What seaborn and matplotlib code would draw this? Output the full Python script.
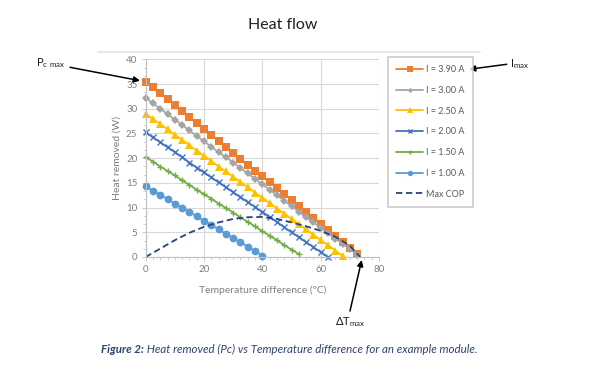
import matplotlib
matplotlib.use("Agg")
import matplotlib.pyplot as plt
import seaborn as sns
import pandas as pd
from matplotlib.ticker import MultipleLocator
from matplotlib.lines import Line2D

# ---------------- data ----------------
x_390 = [0, 2.5, 5, 7.5, 10, 12.5, 15, 17.5, 20, 22.5, 25, 27.5, 30, 32.5, 35,
         37.5, 40, 42.5, 45, 47.5, 50, 52.5, 55, 57.5, 60, 62.5, 65, 67.5, 70, 72.5]
q_390 = [35.5, 34.3, 33.1, 31.9, 30.7, 29.5, 28.3, 27.1, 25.9, 24.7, 23.5, 22.3,
         21.1, 19.9, 18.7, 17.5, 16.3, 15.1, 13.9, 12.7, 11.5, 10.3, 9.1, 7.9,
         6.7, 5.5, 4.3, 3.1, 1.9, 0.7]

x_300 = [0, 2.5, 5, 7.5, 10, 12.5, 15, 17.5, 20, 22.5, 25, 27.5, 30, 32.5, 35,
         37.5, 40, 42.5, 45, 47.5, 50, 52.5, 55, 57.5, 60, 62.5, 65, 67.5, 70, 72.5]
q_300 = [32.2, 31.1, 30.0, 28.9, 27.8, 26.7, 25.6, 24.5, 23.4, 22.3, 21.2, 20.2,
         19.1, 18.0, 16.9, 15.8, 14.7, 13.6, 12.5, 11.4, 10.3, 9.2, 8.1, 7.0,
         5.9, 4.8, 3.7, 2.7, 1.6, 0.5]

x_250 = [0, 2.5, 5, 7.5, 10, 12.5, 15, 17.5, 20, 22.5, 25, 27.5, 30, 32.5, 35,
         37.5, 40, 42.5, 45, 47.5, 50, 52.5, 55, 57.5, 60, 62.5, 65, 67.5]
q_250 = [29.0, 27.9, 26.9, 25.8, 24.7, 23.7, 22.6, 21.5, 20.5, 19.4, 18.3, 17.3,
         16.2, 15.2, 14.1, 13.0, 12.0, 10.9, 9.8, 8.8, 7.7, 6.6, 5.6, 4.5, 3.4,
         2.4, 1.3, 0.2]

x_200 = [0, 2.5, 5, 7.5, 10, 12.5, 15, 17.5, 20, 22.5, 25, 27.5, 30, 32.5, 35,
         37.5, 40, 42.5, 45, 47.5, 50, 52.5, 55, 57.5, 60, 62.5]
q_200 = [25.2, 24.2, 23.2, 22.2, 21.2, 20.2, 19.1, 18.1, 17.1, 16.1, 15.1, 14.1,
         13.1, 12.1, 11.1, 10.1, 9.1, 8.1, 7.1, 6.0, 5.0, 4.0, 3.0, 2.0, 1.0, 0.0]

x_150 = [0, 2.5, 5, 7.5, 10, 12.5, 15, 17.5, 20, 22.5, 25, 27.5, 30, 32.5, 35,
         37.5, 40, 42.5, 45, 47.5, 50, 52.5]
q_150 = [20.2, 19.3, 18.3, 17.4, 16.5, 15.5, 14.6, 13.6, 12.7, 11.8, 10.8, 9.9,
         9.0, 8.0, 7.1, 6.2, 5.2, 4.3, 3.4, 2.4, 1.5, 0.6]

x_100 = [0, 2.5, 5, 7.5, 10, 12.5, 15, 17.5, 20, 22.5, 25, 27.5, 30, 32.5, 35,
         37.5, 40]
q_100 = [14.3, 13.4, 12.6, 11.7, 10.8, 10.0, 9.1, 8.2, 7.3, 6.5, 5.6, 4.7, 3.8,
         3.0, 2.1, 1.2, 0.3]

x_cop = [0, 5, 10, 15, 20, 25, 30, 35, 40, 45, 50, 55, 60, 65, 70, 73.5]
q_cop = [0.0, 1.7, 3.4, 4.9, 6.1, 7.0, 7.7, 8.05, 8.1, 7.7, 7.0, 6.2, 5.3, 4.1,
         2.3, 0.0]

labels = ["I = 3.90 A", "I = 3.00 A", "I = 2.50 A", "I = 2.00 A",
          "I = 1.50 A", "I = 1.00 A", "Max COP"]

x_ticks = [0, 20, 40, 60, 80]
y_ticks = [0, 5, 10, 15, 20, 25, 30, 35, 40]

# ---------------- styling ----------------
sns.set_theme(style="whitegrid")
plt.rcParams["font.family"] = ["Lato", "DejaVu Sans"]

W, H = 600, 370
fig = plt.figure(figsize=(6, 3.7), dpi=100)
fig.patch.set_facecolor("white")
ax = fig.add_axes([145.7 / W, 1 - 257 / H, (379 - 145.7) / W, (257 - 59.3) / H])
ax.set_facecolor("white")

series = [
    (x_390, q_390, "#ED7D31", "s", 5.4, None),
    (x_300, q_300, "#A5A5A5", "D", 3.8, None),
    (x_250, q_250, "#FFC000", "^", 5.6, None),
    (x_200, q_200, "#4472C4", "x", 4.3, 1.0),
    (x_150, q_150, "#70AD47", "+", 4.8, 1.0),
    (x_100, q_100, "#5B9BD5", "o", 5.6, None),
]
for (xs, ys, col, mk, ms, mew), lab in zip(series, labels):
    kw = dict(marker=mk, markersize=ms, color=col, linewidth=1.3,
              markeredgecolor=col, markerfacecolor=col, clip_on=False)
    kw["markeredgewidth"] = mew if mew is not None else 0
    sns.lineplot(data=pd.DataFrame({"x": xs, "y": ys}), x="x", y="y", ax=ax,
                 label=lab, sort=False, **kw)

sns.lineplot(data=pd.DataFrame({"x": x_cop, "y": q_cop}), x="x", y="y", ax=ax,
             label=labels[-1], color="#264478", linewidth=1.3,
             linestyle=(0, (3.5, 2)), sort=False)

ax.set_xlim(0, 80)
ax.set_ylim(0, 40)
ax.set_xticks(x_ticks)
ax.set_yticks(y_ticks)
ax.xaxis.set_minor_locator(MultipleLocator(2.5))
ax.yaxis.set_minor_locator(MultipleLocator(5 / 3))
ax.grid(True, which="major", color="#d9d9d9", linewidth=0.8)
ax.grid(False, which="minor")
for s in ["top", "right"]:
    ax.spines[s].set_visible(False)
for s in ["left", "bottom"]:
    ax.spines[s].set_color("#bfbfbf")
    ax.spines[s].set_linewidth(0.8)
ax.tick_params(axis="both", which="major", labelsize=7, labelcolor="#7f7f7f",
               length=3, width=0.6, color="#bfbfbf", pad=3, direction="out")
ax.tick_params(axis="both", which="minor", length=2, width=0.5, color="#bfbfbf",
               direction="out")
ax.tick_params(axis="x", which="both", bottom=True)
ax.tick_params(axis="y", which="both", left=True)
ax.set_xlabel("Temperature difference (ºC)", fontsize=7.5, color="#7f7f7f", labelpad=8)
ax.set_ylabel("Heat removed (W)", fontsize=7.5, color="#7f7f7f", labelpad=3)

leg = ax.legend(loc="upper left", bbox_to_anchor=(388 / W, 1 - 57 / H),
                bbox_transform=fig.transFigure, fontsize=6.5, frameon=True,
                labelspacing=1.3, handlelength=3.0, handletextpad=0.3,
                borderpad=0.9, borderaxespad=0, markerscale=0.7, shadow=False,
                fancybox=False)
leg.get_frame().set_edgecolor("#bfbfbf")
leg.get_frame().set_linewidth(1.2)
for t in leg.get_texts():
    t.set_color("#595959")

# ---------------- title, separator, annotations, caption ----------------
fig.text(283 / W, 1 - 25 / H, "Heat flow", ha="center", va="center",
         fontsize=11.5, color="#1f1f1f")
fig.add_artist(Line2D([98 / W, 480 / W], [1 - 52 / H, 1 - 52 / H],
                      transform=fig.transFigure, color="#e6e6e6", linewidth=1.3))

arrow = dict(arrowstyle="-|>", color="black", lw=1.1, mutation_scale=9,
             shrinkA=0, shrinkB=0)
ax.annotate("", xy=(140 / W, 1 - 80.7 / H), xycoords="figure fraction",
            xytext=(70 / W, 1 - 67.3 / H), textcoords="figure fraction",
            arrowprops=arrow, annotation_clip=False)
fig.text(36 / W, 1 - 63.5 / H, r"P$_{\mathregular{c\ max}}$", ha="left", va="center",
         fontsize=8, color="#1a1a1a")

ax.annotate("", xy=(469 / W, 1 - 69.3 / H), xycoords="figure fraction",
            xytext=(506.7 / W, 1 - 64.3 / H), textcoords="figure fraction",
            arrowprops=arrow, annotation_clip=False)
fig.text(510 / W, 1 - 64 / H, r"I$_{\mathregular{max}}$", ha="left", va="center",
         fontsize=8, color="#1a1a1a")

ax.annotate("", xy=(361.7 / W, 1 - 260 / H), xycoords="figure fraction",
            xytext=(350 / W, 1 - 311 / H), textcoords="figure fraction",
            arrowprops=arrow, annotation_clip=False)
fig.text(335 / W, 1 - 322 / H, r"ΔT$_{\mathregular{max}}$", ha="left", va="center",
         fontsize=8, color="#1a1a1a")

cap_col = "#2f4270"
cap_y = 1 - 353 / H
t1 = fig.text(101 / W, cap_y, "Figure 2:", ha="left", va="baseline",
              fontsize=8.3, style="italic", weight="bold", color=cap_col)
renderer = fig.canvas.get_renderer()
bb = t1.get_window_extent(renderer)
fig.text(bb.x1 / fig.bbox.width, cap_y,
         " Heat removed (Pc) vs Temperature difference for an example module.",
         ha="left", va="baseline", fontsize=8.3, style="italic", color=cap_col)

fig.savefig("out.png", dpi=100, facecolor="white")
